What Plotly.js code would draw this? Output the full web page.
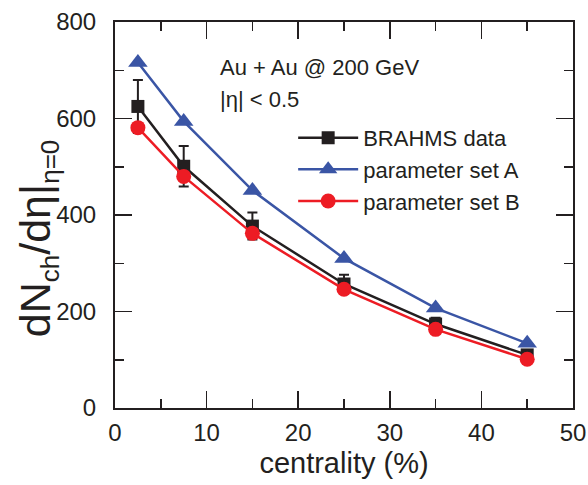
<!DOCTYPE html>
<html><head><meta charset="utf-8">
<script src="https://cdn.plot.ly/plotly-3.0.1.min.js"></script>
<style>html,body{margin:0;padding:0;background:#fff}</style>
</head><body>
<div id="chart" style="width:588px;height:485px"></div>
<script>
const centrality = [2.5, 7.5, 15, 25, 35, 45];
const brahms = [625, 501, 377, 257, 174, 110];
const brahmsErr = [55, 42, 28, 19, 13, 9];
const setA = [716, 594, 451, 310, 207, 134];
const setB = [581, 480, 362, 246, 163, 101];
const xTicks = [0, 10, 20, 30, 40, 50];
const yTicks = [0, 200, 400, 600, 800];

const axisColor = '#231f20';
const font = 'Liberation Sans, Arial, sans-serif';

const traces = [
  {x: centrality, y: brahms, name: 'BRAHMS data', mode: 'lines+markers',
   line: {color: '#231f20', width: 2.5},
   marker: {symbol: 'square', size: 13, color: '#231f20'},
   error_y: {type: 'data', array: brahmsErr, visible: true, color: '#231f20', thickness: 2, width: 5}},
  {x: centrality, y: setA, name: 'parameter set A', mode: 'lines+markers',
   line: {color: '#3a55a5', width: 2.5},
   marker: {symbol: 'triangle-up', size: 17, color: '#3a55a5'}},
  {x: centrality, y: setB, name: 'parameter set B', mode: 'lines+markers',
   line: {color: '#ed1c24', width: 2.5},
   marker: {symbol: 'circle', size: 15, color: '#ed1c24'}}
];

const axisCommon = {
  showline: true, linecolor: axisColor, linewidth: 2, mirror: 'ticks',
  ticks: 'inside', ticklen: 17, tickwidth: 1.5, tickcolor: axisColor,
  showgrid: false, zeroline: false,
  tickfont: {family: font, size: 24, color: axisColor}
};

const layout = {
  width: 588, height: 485,
  margin: {l: 115, r: 15, t: 22, b: 77},
  paper_bgcolor: '#fff', plot_bgcolor: '#fff',
  showlegend: true,
  legend: {x: 0.389, y: 0.754, xanchor: 'left', yanchor: 'top',
    font: {family: font, size: 22, color: axisColor},
    bgcolor: 'rgba(0,0,0,0)', tracegroupgap: 0, itemwidth: 60},
  xaxis: Object.assign({}, axisCommon, {
    range: [0, 50], tickvals: xTicks, ticktext: xTicks.map(String),
    ticklabelstandoff: 2,
    minor: {ticks: 'inside', ticklen: 9, tickwidth: 1.5, tickcolor: axisColor, dtick: 5, tick0: 0},
    title: {text: 'centrality (%)', font: {family: font, size: 29, color: axisColor}, standoff: 8}
  }),
  yaxis: Object.assign({}, axisCommon, {
    range: [0, 800], tickvals: yTicks, ticktext: yTicks.map(String),
    ticklabelstandoff: 12,
    minor: {ticks: 'inside', ticklen: 9, tickwidth: 1.5, tickcolor: axisColor, dtick: 100, tick0: 0}
  }),
  annotations: [
    {xref: 'paper', yref: 'paper', x: -0.168, y: 0.44, xanchor: 'center', yanchor: 'middle',
     textangle: -90, showarrow: false,
     text: 'dN<sub><span style="font-size:26px">ch</span></sub>/dη|<sub><span style="font-size:26px">η=0</span></sub>',
     font: {family: font, size: 43, color: axisColor}},
    {xref: 'paper', yref: 'paper', x: 0.225, y: 0.881, xanchor: 'left', yanchor: 'middle',
     text: 'Au + Au @ 200 GeV', showarrow: false, font: {family: font, size: 22, color: axisColor}},
    {xref: 'paper', yref: 'paper', x: 0.225, y: 0.8, xanchor: 'left', yanchor: 'middle',
     text: '|η| < 0.5', showarrow: false, font: {family: font, size: 22, color: axisColor}}
  ]
};

Plotly.newPlot('chart', traces, layout, {displayModeBar: false, staticPlot: true});
</script>
</body></html>
